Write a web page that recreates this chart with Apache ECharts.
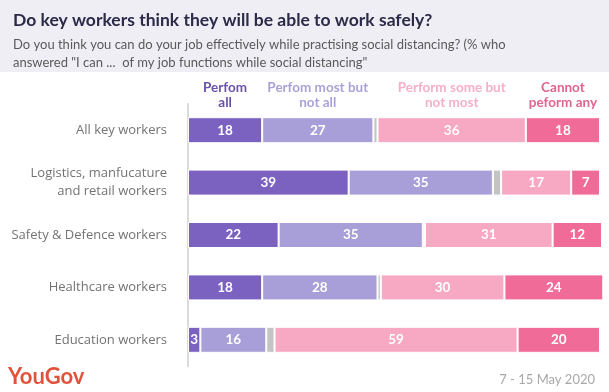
<!DOCTYPE html>
<html><head><meta charset="utf-8">
<script src="https://cdn.jsdelivr.net/npm/echarts@6/dist/echarts.min.js"></script>
<style>html,body{margin:0;padding:0;background:#fff}#c{width:609px;height:392px}</style>
</head><body><div id="c"></div>
<script>
var categories = ['All key workers', 'Logistics, manfucature\nand retail workers', 'Safety & Defence workers', 'Healthcare workers', 'Education workers'];
var performAll = [18, 39, 22, 18, 3];
var performMost = [27, 35, 35, 28, 16];
var dontKnow = [1, 2, 0.5, 0.8, 2];
var performSome = [36, 17, 31, 30, 59];
var cannotPerform = [18, 7, 12, 24, 20];
var headers = ['Perfom\nall', 'Perfom most but\nnot all', 'Perform some but\nnot most', 'Cannot\npeform any'];

var FONT = 'Lato';
var chart = echarts.init(document.getElementById('c'));

function headerMark(idx, color) {
  var before = [performAll, performMost, dontKnow, performSome, cannotPerform];
  var order = [0, 1, 3, 4];
  var k = order[idx];
  var off = 0;
  for (var i = 0; i < k; i++) off += before[i][0];
  return {
    symbol: 'rect', symbolSize: 0, silent: true,
    data: [{ coord: [off + before[k][0] / 2, categories[0]] }],
    label: { show: true, position: 'inside', offset: [0, -35], formatter: headers[idx],
      color: color, fontFamily: FONT, fontWeight: 'bold', fontSize: 13.5, lineHeight: 15, align: 'center' }
  };
}

function mk(name, data, color, hIdx, hColor) {
  var s = {
    name: name, type: 'bar', stack: 'a', data: data, barWidth: 26,
    itemStyle: { color: color, borderColor: '#fff', borderWidth: 1 },
    label: { show: hIdx !== null, position: 'inside', color: '#fff', fontFamily: FONT, fontWeight: 'bold', fontSize: 13.5 },
    clip: false
  };
  if (hIdx !== null) s.markPoint = headerMark(hIdx, hColor);
  return s;
}

chart.setOption({
  animation: false,
  backgroundColor: '#fff',
  title: {
    text: 'Do key workers think they will be able to work safely?',
    subtext: 'Do you think you can do your job effectively while practising social distancing? (% who\nanswered "I can ...  of my job functions while social distancing"',
    left: 8, top: 6, itemGap: 7,
    textStyle: { fontFamily: FONT, fontWeight: 'bold', fontSize: 17.5, color: '#2c2a48' },
    subtextStyle: { fontFamily: FONT, fontSize: 13, color: '#5a5a5a', lineHeight: 18 }
  },
  graphic: [
    { type: 'rect', z: -10, shape: { x: 0, y: 0, width: 609, height: 72 }, style: { fill: '#efeef5' } },
    { type: 'text', left: 8, top: 366, style: { text: 'YouGov', fill: '#e1523d', font: 'bold 22px ' + FONT } },
    { type: 'text', right: 14, top: 373, style: { text: '7 - 15 May 2020', fill: '#a8a8a8', font: '13px ' + FONT } }
  ],
  grid: { left: 188, right: 9, top: 104, bottom: 26 },
  xAxis: { type: 'value', min: 0, max: 100, show: false },
  yAxis: {
    type: 'category', data: categories, inverse: true,
    axisLine: { show: true, lineStyle: { color: '#dadada', width: 2 } },
    axisTick: { show: false },
    axisLabel: { margin: 21, color: '#737373', fontFamily: 'Open Sans', fontSize: 13, lineHeight: 18, align: 'right' }
  },
  series: [
    mk('Perfom all', performAll, '#7b61c0', 0, '#6953a8'),
    mk('Perfom most but not all', performMost, '#a99fd8', 1, '#a9a2d6'),
    mk("Don't know", dontKnow, '#c4c4c4', null),
    mk('Perform some but not most', performSome, '#f7a9c3', 2, '#f5afc8'),
    mk('Cannot peform any', cannotPerform, '#f06b98', 3, '#e0648d')
  ]
});
</script></body></html>
